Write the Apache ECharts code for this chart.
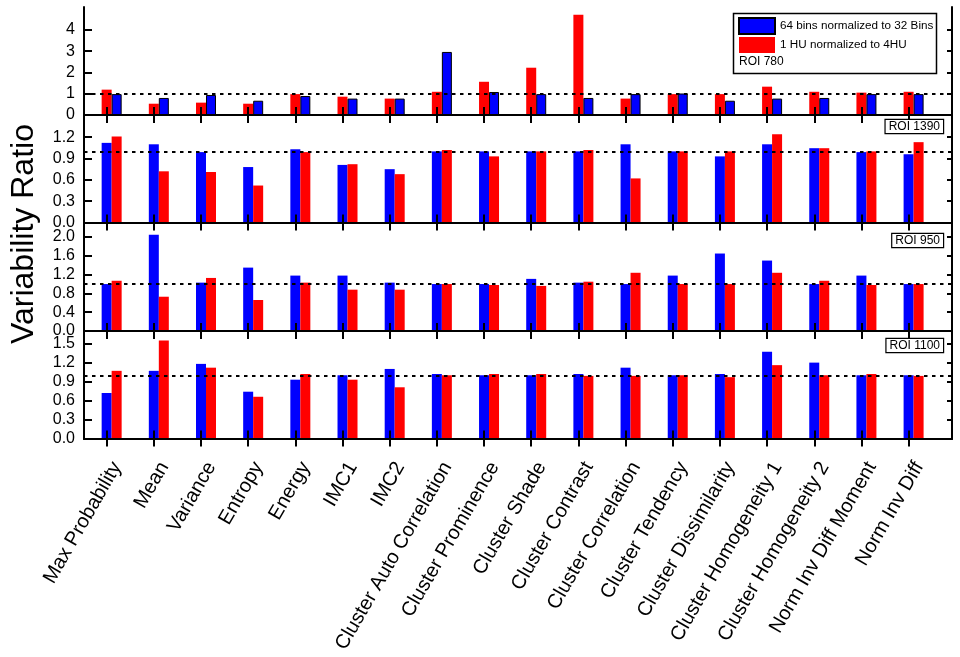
<!DOCTYPE html>
<html>
<head>
<meta charset="utf-8">
<script src="https://cdn.jsdelivr.net/npm/echarts@6/dist/echarts.min.js"></script>
<style>
html,body{margin:0;padding:0;background:#fff;}
#chart{width:960px;height:657px;}
</style>
</head>
<body>
<div id="chart"></div>
<script>
const CATS = ['Max Probability','Mean','Variance','Entropy','Energy','IMC1','IMC2','Cluster Auto Correlation','Cluster Prominence','Cluster Shade','Cluster Contrast','Cluster Correlation','Cluster Tendency','Cluster Dissimilarity','Cluster Homogeneity 1','Cluster Homogeneity 2','Norm Inv Diff Moment','Norm Inv Diff'];

const SERIES_BLUE = '64 bins normalized to 32 Bins';
const SERIES_RED = '1 HU normalized to 4HU';

const ROI780_BLUE  = [0.98,0.80,0.94,0.67,0.89,0.77,0.77,2.96,1.08,0.98,0.80,0.98,1.01,0.67,0.77,0.80,0.98,0.98];
const ROI780_RED   = [1.19,0.53,0.58,0.53,0.98,0.86,0.77,1.09,1.56,2.22,4.71,0.77,0.98,0.98,1.33,1.09,1.05,1.09];
const ROI1390_BLUE = [1.12,1.10,0.99,0.78,1.03,0.81,0.75,1.00,1.00,1.00,1.00,1.10,1.00,0.93,1.10,1.045,0.99,0.96];
const ROI1390_RED  = [1.21,0.72,0.71,0.52,0.99,0.82,0.68,1.02,0.93,1.00,1.02,0.62,1.00,1.00,1.24,1.045,1.00,1.13];
const ROI950_BLUE  = [1.00,2.05,1.03,1.35,1.18,1.18,1.03,1.00,1.00,1.11,1.03,1.00,1.18,1.65,1.50,1.00,1.18,1.00];
const ROI950_RED   = [1.07,0.73,1.13,0.66,1.03,0.88,0.88,1.00,0.98,0.96,1.05,1.24,1.00,1.00,1.24,1.07,0.98,1.00];
const ROI1100_BLUE = [0.72,1.07,1.18,0.74,0.93,1.00,1.10,1.02,1.00,1.00,1.02,1.12,1.00,1.02,1.37,1.20,1.00,1.00];
const ROI1100_RED  = [1.07,1.55,1.12,0.66,1.02,0.93,0.81,1.00,1.02,1.02,0.99,0.99,1.00,0.97,1.16,1.00,1.02,0.99];

const Y_TICKS_780  = [0,1,2,3,4];
const Y_TICKS_1390 = [0,0.3,0.6,0.9,1.2];
const Y_TICKS_950  = [0,0.4,0.8,1.2,1.6,2.0];
const Y_TICKS_1100 = [0,0.3,0.6,0.9,1.2,1.5];

const REF_LINE = 1;
const X_TICKS = CATS.map((c, i) => i + 1);

const FONT = '"Liberation Sans", Arial, sans-serif';
const BLUE = '#0000ff';
const RED = '#ff0000';

const PANELS = [
  {roi: 'ROI 780',  blue: ROI780_BLUE,  red: ROI780_RED,  redFirst: true,  yMax: 5.07, ticks: Y_TICKS_780,  dec: 0, top: 7,   h: 108},
  {roi: 'ROI 1390', blue: ROI1390_BLUE, red: ROI1390_RED, redFirst: false, yMax: 1.512, ticks: Y_TICKS_1390, dec: 1, top: 115, h: 107.5},
  {roi: 'ROI 950',  blue: ROI950_BLUE,  red: ROI950_RED,  redFirst: false, yMax: 2.30, ticks: Y_TICKS_950,  dec: 1, top: 223, h: 108},
  {roi: 'ROI 1100', blue: ROI1100_BLUE, red: ROI1100_RED, redFirst: false, yMax: 1.70, ticks: Y_TICKS_1100, dec: 1, top: 331, h: 107.5}
];

const X_MIN = 0.52, X_MAX = 18.92;
const LABEL_SHIFT = 0.22;

const grid = [], xAxis = [], yAxis = [], series = [];
const axisLine = {show: true, lineStyle: {color: '#000', width: 2}};

PANELS.forEach((p, k) => {
  grid.push({left: 84, width: 868, top: p.top, height: p.h, containLabel: false, outerBoundsMode: 'none'});
  const xBottom = xAxis.length;
  xAxis.push({type: 'value', gridIndex: k, position: 'bottom', min: X_MIN, max: X_MAX, z: 10,
    axisLine, splitLine: {show: false},
    axisTick: {show: true, inside: true, length: 8, lineStyle: {color: '#000', width: 2}, customValues: X_TICKS},
    axisLabel: {show: false}});
  xAxis.push({type: 'value', gridIndex: k, position: 'top', min: X_MIN, max: X_MAX, z: 10,
    axisLine, splitLine: {show: false},
    axisTick: {show: true, inside: true, length: 8, lineStyle: {color: '#000', width: 2}, customValues: X_TICKS},
    axisLabel: {show: false}});
  const yLeft = yAxis.length;
  yAxis.push({type: 'value', gridIndex: k, position: 'left', min: 0, max: p.yMax, z: 10,
    axisLine, splitLine: {show: false},
    axisTick: {show: true, inside: true, length: 8, lineStyle: {color: '#000', width: 2}, customValues: p.ticks},
    axisLabel: {show: true, customValues: p.ticks, margin: 9, color: '#000', fontSize: 16, fontFamily: FONT,
      formatter: v => Number(v).toFixed(p.dec)}});
  yAxis.push({type: 'value', gridIndex: k, position: 'right', min: 0, max: p.yMax, z: 10,
    axisLine, splitLine: {show: false},
    axisTick: {show: true, inside: true, length: 5, lineStyle: {color: '#000', width: 2}, customValues: p.ticks},
    axisLabel: {show: false}});

  const mk = (name, vals, color, border) => ({
    type: 'bar', name, xAxisIndex: xBottom, yAxisIndex: yLeft,
    barWidth: 10, barGap: '0%', animation: false,
    itemStyle: {color, borderColor: '#000', borderWidth: border ? 1 : 0},
    data: vals.map((v, i) => [X_TICKS[i], v])
  });
  const blueS = mk(SERIES_BLUE, p.blue, BLUE, k === 0);
  const redS = mk(SERIES_RED, p.red, RED, false);
  const first = p.redFirst ? redS : blueS;
  const second = p.redFirst ? blueS : redS;
  first.markLine = {silent: true, symbol: ['none', 'none'], animation: false, label: {show: false},
    lineStyle: {color: '#000', width: 2, type: [3.5, 4.5]}, data: [{yAxis: REF_LINE}]};
  series.push({type: 'bar', name: '_pad', xAxisIndex: xBottom, yAxisIndex: yLeft, barWidth: 10, barGap: '0%', data: []});
  series.push(first, second);
});

// label axis for category names (bottom panel)
xAxis.push({type: 'value', gridIndex: 3, position: 'bottom', min: X_MIN - LABEL_SHIFT, max: X_MAX - LABEL_SHIFT,
  axisLine: {show: false}, axisTick: {show: false}, splitLine: {show: false},
  axisLabel: {show: true, customValues: X_TICKS, rotate: 60, margin: 25, color: '#000', fontSize: 20, fontFamily: FONT,
    formatter: v => CATS[Math.round(v) - 1] || ''}});

const graphic = [
  {type: 'rect', shape: {x: 733.5, y: 13.5, width: 203, height: 60}, style: {fill: 'none', stroke: '#000', lineWidth: 1.5}, z: 20},
  {type: 'text', x: 739, y: 62, style: {text: 'ROI 780', font: '12px ' + FONT, fill: '#000', align: 'left', verticalAlign: 'middle'}, z: 20},
  {type: 'text', x: 24, y: 234, rotation: Math.PI / 2, style: {text: 'Variability Ratio', font: '32px ' + FONT, fill: '#000', align: 'center', verticalAlign: 'middle'}},
];
PANELS.slice(1).forEach((p, j) => {
  const ys = [120, 234, 339];
  graphic.push({type: 'text', x: 943, y: ys[j], z: 20,
    style: {text: p.roi, font: '12px ' + FONT, fill: '#000', align: 'right', verticalAlign: 'top',
      backgroundColor: '#fff', borderColor: '#000', borderWidth: 1.2, padding: [1, 3, 0, 3]}});
});

const chart = echarts.init(document.getElementById('chart'), null, {renderer: 'canvas'});
chart.setOption({
  animation: false,
  backgroundColor: '#fff',
  grid, xAxis, yAxis, series, graphic,
  legend: {show: true, orient: 'vertical', left: 738, top: 17, padding: 0, itemWidth: 36, itemHeight: 16, itemGap: 2,
    selectedMode: false, icon: 'rect', data: [SERIES_BLUE, SERIES_RED],
    textStyle: {fontSize: 11.7, color: '#000', fontFamily: FONT}}
});
</script>
</body>
</html>
